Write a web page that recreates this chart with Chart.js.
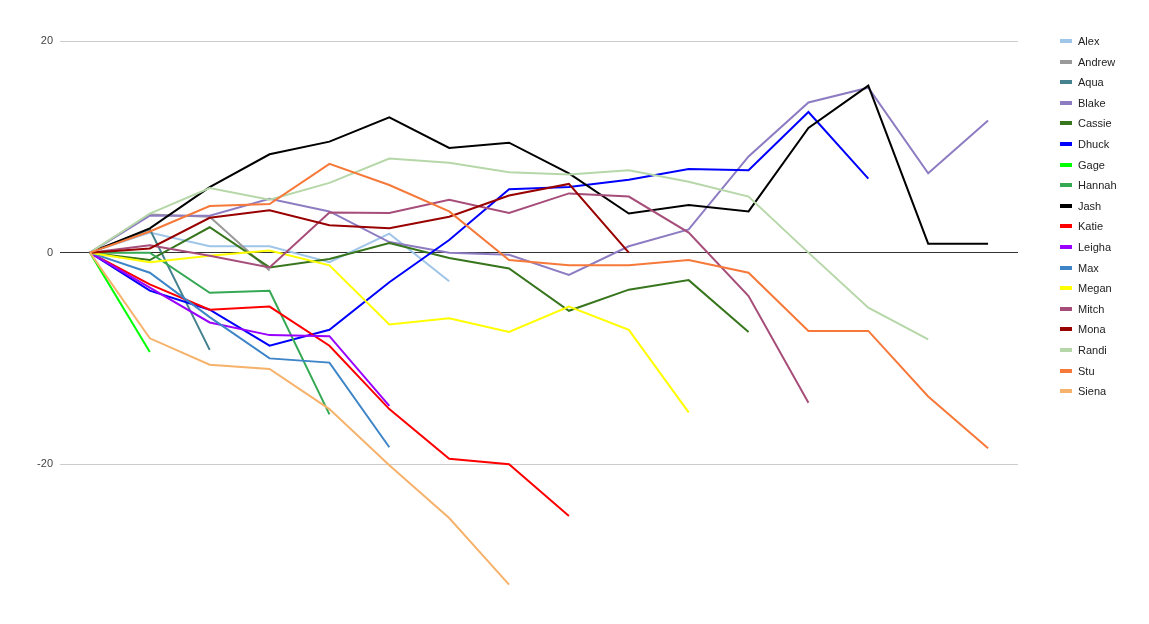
<!DOCTYPE html>
<html>
<head>
<meta charset="utf-8">
<script src="https://cdn.jsdelivr.net/npm/chart.js@4"></script>
<style>
  body { margin: 0; background: #fff; font-family: Arial, "Liberation Sans", sans-serif; }
  #wrap { position: relative; width: 1149px; height: 624px; }
  #legend { position: absolute; left: 1060px; top: 31px; font-size: 11px; color: #222; }
  #legend div { height: 20.6px; line-height: 20.6px; white-space: nowrap; }
  #legend span { display: inline-block; width: 12px; height: 4px; margin-right: 6px; vertical-align: middle; position: relative; top: -1px; }
</style>
</head>
<body>
<div id="wrap">
  <canvas id="chart" width="1149" height="624"></canvas>
  <div id="legend"></div>
</div>
<script>
var labels = ['0','1','2','3','4','5','6','7','8','9','10','11','12','13','14','15'];
var names = ['Alex','Andrew','Aqua','Blake','Cassie','Dhuck','Gage','Hannah','Jash','Katie','Leigha','Max','Megan','Mitch','Mona','Randi','Stu','Siena'];
var colors = ['#9fc5e8','#999999','#45818e','#8e7cc3','#38761d','#0000ff','#00ff00','#34a853','#000000','#ff0000','#9900ff','#3d85c6','#ffff00','#a64d79','#990000','#b6d7a8','#f6793a','#f6b26b'];

var alex   = [0, 1.9, 0.6, 0.6, -0.9, 1.8, -2.7];
var andrew = [0, 3.6, 3.4, -1.7];
var aqua   = [0, 2.2, -9.2];
var blake  = [0, 3.5, 3.5, 5.1, 3.9, 1.0, 0, -0.2, -2.1, 0.6, 2.2, 9.1, 14.2, 15.6, 7.5, 12.5];
var cassie = [0, -0.7, 2.4, -1.4, -0.6, 0.9, -0.5, -1.5, -5.5, -3.5, -2.6, -7.5];
var dhuck  = [0, -3.6, -5.4, -8.8, -7.3, -2.8, 1.2, 6.0, 6.2, 6.9, 7.9, 7.8, 13.3, 7.0];
var gage   = [0, -9.4];
var hannah = [0, 0, -3.8, -3.6, -15.3];
var jash   = [0, 2.3, 6.2, 9.3, 10.5, 12.8, 9.9, 10.4, 7.5, 3.7, 4.5, 3.9, 11.8, 15.8, 0.85, 0.85];
var katie  = [0, -3.0, -5.4, -5.1, -8.8, -14.8, -19.5, -20.0, -24.9];
var leigha = [0, -3.3, -6.6, -7.8, -7.9, -14.5];
var max    = [0, -1.9, -6.1, -10.0, -10.4, -18.4];
var megan  = [0, -0.9, -0.3, 0.2, -1.2, -6.8, -6.2, -7.5, -5.1, -7.3, -15.1];
var mitch  = [0, 0.7, -0.3, -1.4, 3.8, 3.75, 5.0, 3.75, 5.6, 5.3, 1.9, -4.1, -14.2];
var mona   = [0, 0.4, 3.3, 4.0, 2.6, 2.3, 3.4, 5.4, 6.5, 0];
var randi  = [0, 3.7, 6.1, 5.0, 6.6, 8.9, 8.5, 7.6, 7.4, 7.8, 6.7, 5.3, 0, -5.2, -8.2];
var stu    = [0, 2.0, 4.4, 4.6, 8.4, 6.4, 3.9, -0.7, -1.2, -1.2, -0.7, -1.9, -7.4, -7.4, -13.6, -18.5];
var siena  = [0, -8.1, -10.6, -11.0, -14.8, -20.1, -25.1, -31.4];

var yTicks = [-20, 0, 20];

var series = [alex, andrew, aqua, blake, cassie, dhuck, gage, hannah, jash, katie, leigha, max, megan, mitch, mona, randi, stu, siena];

var datasets = series.map(function(vals, i) {
  return {
    label: names[i],
    data: vals,
    borderColor: colors[i],
    backgroundColor: colors[i],
    borderWidth: 2,
    pointRadius: 0,
    pointHoverRadius: 0,
    tension: 0,
    fill: false,
    order: series.length - i
  };
});

new Chart(document.getElementById('chart'), {
  type: 'line',
  data: { labels: labels, datasets: datasets },
  options: {
    responsive: false,
    animation: false,
    layout: { padding: { top: 20, right: 131, bottom: 22.4, left: 0 } },
    plugins: { legend: { display: false }, tooltip: { enabled: false } },
    scales: {
      x: { display: false, offset: true },
      y: {
        min: -33,
        max: 22,
        afterFit: function(scale) { scale.width = 60; },
        afterBuildTicks: function(scale) {
          scale.ticks = yTicks.map(function(v) { return { value: v }; });
        },
        border: { display: false },
        grid: {
          drawTicks: false,
          color: function(ctx) { return ctx.tick && ctx.tick.value === 0 ? '#333333' : '#cccccc'; }
        },
        ticks: {
          padding: 7,
          color: '#444',
          font: { family: 'Arial, "Liberation Sans", sans-serif', size: 11 }
        }
      }
    }
  }
});

var legend = document.getElementById('legend');
names.forEach(function(n, i) {
  var row = document.createElement('div');
  row.innerHTML = '<span style="background:' + colors[i] + '"></span>' + n;
  legend.appendChild(row);
});
</script>
</body>
</html>
